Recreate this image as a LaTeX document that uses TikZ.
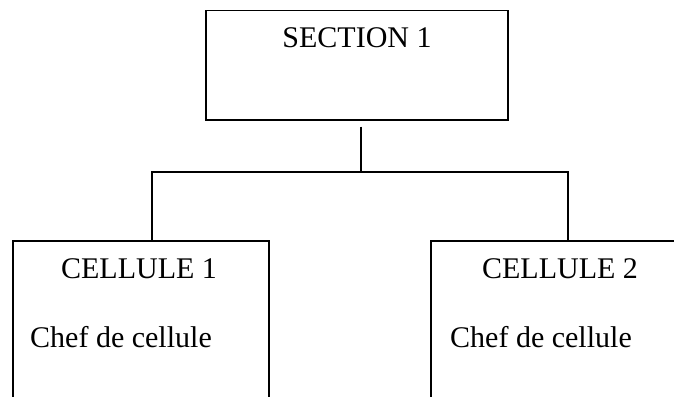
\documentclass[tikz,border=0pt]{standalone}
\usepackage{fontspec}
\setmainfont{Liberation Serif}
\begin{document}
\begin{tikzpicture}[x=1pt,y=-1pt,
  box/.style={draw,line width=1.5pt,rectangle,inner sep=0pt,anchor=north west},
  lbl/.style={inner sep=0pt,font=\fontsize{30}{36}\selectfont},
  conn/.style={line width=1.5pt}]
\useasboundingbox (0,0) rectangle (674,396);
\clip (0,0) rectangle (674,396);
\node[box,minimum width=302pt,minimum height=109pt] (sec) at (205,10) {};
\node[box,minimum width=256pt,minimum height=200pt] (c1) at (12,240) {};
\node[box,minimum width=280pt,minimum height=200pt] (c2) at (430,240) {};
\node[lbl,anchor=base] (t0) at (357,48) {SECTION 1};
\node[lbl,anchor=base] (t1) at (139,278) {CELLULE 1};
\node[lbl,anchor=base west] (t2) at (30,347) {Chef de cellule};
\node[lbl,anchor=base] (t3) at (560,278) {CELLULE 2};
\node[lbl,anchor=base west] (t4) at (450,347) {Chef de cellule};
\coordinate (j) at (361,172);
\coordinate (l) at (152,172);
\coordinate (r) at (568,172);
\draw[conn] ([yshift=-6pt]sec.south -| j) -- (j);
\draw[conn] (c1.north -| l) -- (l) -- (r) -- (c2.north -| r);
\end{tikzpicture}
\end{document}
